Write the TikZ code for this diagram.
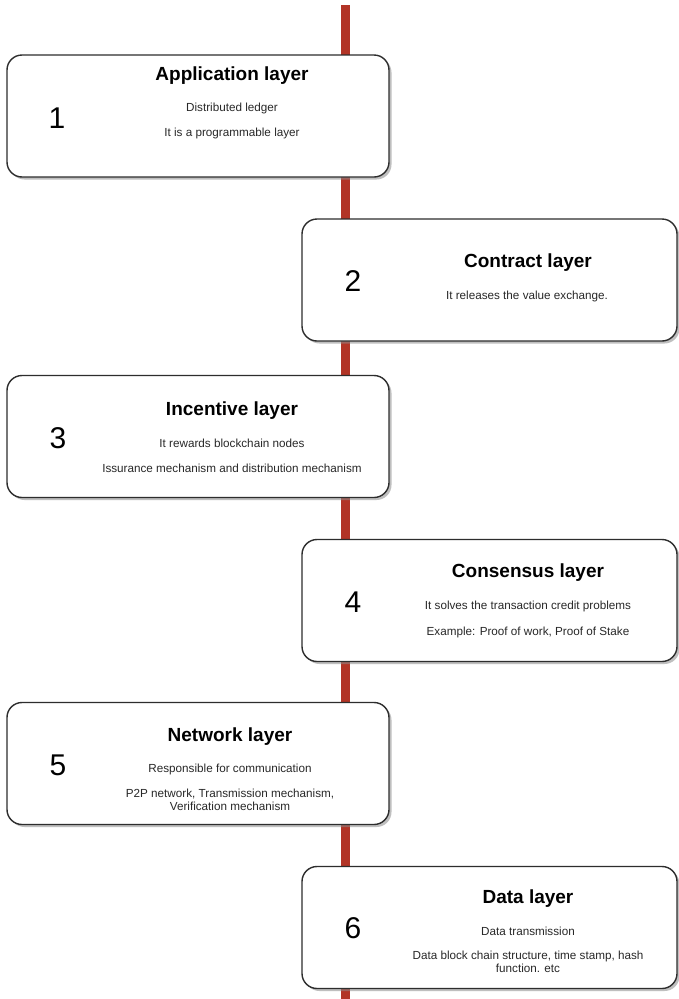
\documentclass[tikz,border=0pt]{standalone}
\usepackage{fontspec}
\setmainfont{Liberation Sans}
\usetikzlibrary{shadows}
\definecolor{spine}{RGB}{178,52,38}
\definecolor{edge}{RGB}{45,45,45}
\definecolor{body}{RGB}{40,40,40}
\tikzset{
  layerbox/.style={draw=edge, line width=1.4pt, fill=white, rounded corners=15pt,
    minimum width=382pt, minimum height=122pt, inner sep=0pt,
    drop shadow={shadow xshift=2.5pt, shadow yshift=-2.5pt, fill=black!45, opacity=0.55}},
  rbox/.style={layerbox, minimum width=375pt},
  num/.style={font=\fontsize{30}{32}\selectfont, inner sep=0pt},
  ttl/.style={font=\bfseries\fontsize{19}{21}\selectfont, inner sep=0pt},
  txt/.style={font=\fontsize{11.7}{13.5}\selectfont, text=body, inner sep=0pt, align=center},
}
\begin{document}
\begin{tikzpicture}[x=1pt,y=-1pt]
\useasboundingbox (0,0) rectangle (678,999);
\fill[white] (0,0) rectangle (678,999);
\coordinate (top) at (345.5,5);
\coordinate (bot) at (345.5,999);
\draw[spine, line width=9pt] (top) -- (bot);

% Box 1
\node[layerbox] (b1) at (198,116) {};
\node[num] (n1) at (57,118) {1};
\node[ttl] (t1) at (232,76) {Application layer};
\node[txt] (s1a) at (232,108) {Distributed ledger};
\node[txt] (s1b) at (232,133) {It is a programmable layer};

% Box 2
\node[rbox] (b2) at (489.5,280) {};
\node[num] (n2) at (353,281) {2};
\node[ttl] (t2) at (528,263) {Contract layer};
\node[txt] (s2a) at (527,296) {It releases the value exchange.};

% Box 3
\node[layerbox] (b3) at (198,436.5) {};
\node[num] (n3) at (58,438) {3};
\node[ttl] (t3) at (232,411) {Incentive layer};
\node[txt] (s3a) at (232,443) {It rewards blockchain nodes};
\node[txt] (s3b) at (232,468) {Issurance mechanism and distribution mechanism};

% Box 4
\node[rbox] (b4) at (489.5,600.5) {};
\node[num] (n4) at (353,602) {4};
\node[ttl] (t4) at (528,573) {Consensus layer};
\node[txt] (s4a) at (528,606) {It solves the transaction credit problems};
\node[txt] (s4b) at (528,632) {Example: Proof of work, Proof of Stake};

% Box 5
\node[layerbox] (b5) at (198,763.5) {};
\node[num] (n5) at (58,765) {5};
\node[ttl] (t5) at (230,737) {Network layer};
\node[txt] (s5a) at (230,769) {Responsible for communication};
\node[txt, anchor=north] (s5b) at (230,788.5) {P2P network, Transmission mechanism,\\Verification mechanism};

% Box 6
\node[rbox] (b6) at (489.5,927.5) {};
\node[num] (n6) at (353,928) {6};
\node[ttl] (t6) at (528,899) {Data layer};
\node[txt] (s6a) at (528,931) {Data transmission};
\node[txt, anchor=north] (s6b) at (528,950.5) {Data block chain structure, time stamp, hash\\function. etc};
\end{tikzpicture}
\end{document}
